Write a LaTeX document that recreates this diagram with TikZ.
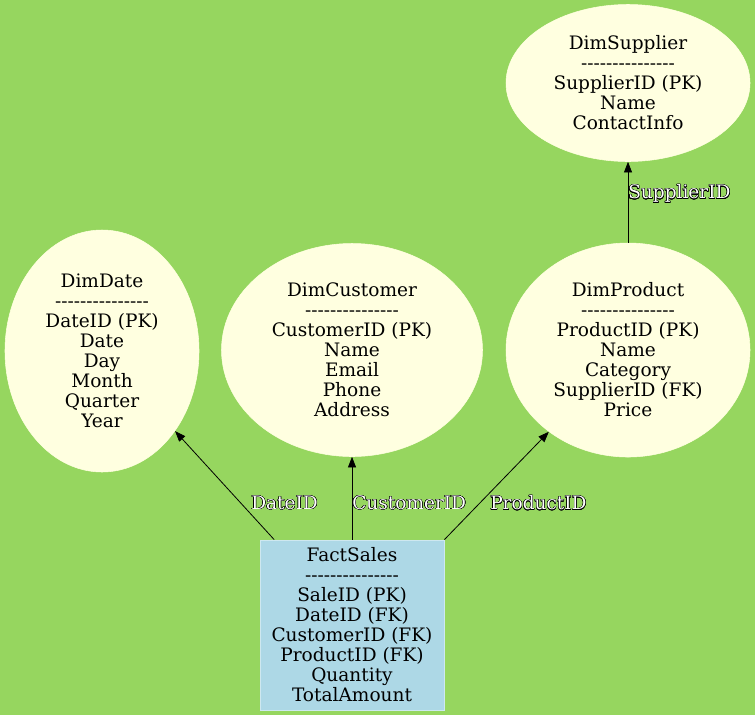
\documentclass[tikz,border=0pt]{standalone}
\usepackage{fontspec}
\setmainfont{DejaVu Serif}
\usepackage{contour}
\contourlength{0.3pt}
\contournumber{16}
\usetikzlibrary{shapes.geometric,arrows.meta}
\definecolor{bg}{HTML}{96D65F}
\definecolor{dimfill}{HTML}{FFFFE0}
\definecolor{factfill}{HTML}{ADD8E6}
\tikzset{
  dimbox/.style={ellipse, fill=dimfill, draw=dimfill, inner sep=0pt, align=center,
    font=\fontsize{13.9}{15}\selectfont},
  factbox/.style={rectangle, fill=factfill, draw=factfill!60!white, line width=0.6pt, inner sep=0pt, align=center,
    font=\fontsize{13.9}{15}\selectfont, minimum width=184*0.75pt, minimum height=170*0.75pt},
  rel/.style={draw=black, line width=0.6pt, -{Triangle[length=8pt,width=6pt]}},
  lbl/.style={anchor=west, inner sep=0pt, font=\fontsize{13.9}{15}\selectfont}
}
\newcommand{\lab}[1]{\contour{black}{\textcolor{white}{#1}}}
\newcommand{\hy}{\mbox{-}}
\newcommand{\sep}{\hy\hy\hy\hy\hy\hy\hy\hy\hy\hy\hy\hy\hy\hy\hy}
\begin{document}
\begin{tikzpicture}[x=0.75pt,y=-0.75pt]
\fill[bg] (0,0) rectangle (755,715);
\useasboundingbox (0,0) rectangle (755,715);

\node[dimbox, minimum width=244*0.75pt, minimum height=157*0.75pt] (supplier) at (628,83)
  {DimSupplier\\\sep\\SupplierID (PK)\\Name\\ContactInfo};
\node[dimbox, minimum width=194*0.75pt, minimum height=242*0.75pt] (date) at (102,351)
  {DimDate\\\sep\\DateID (PK)\\Date\\Day\\Month\\Quarter\\Year};
\node[dimbox, minimum width=261*0.75pt, minimum height=213*0.75pt] (customer) at (352,350)
  {DimCustomer\\\sep\\CustomerID (PK)\\Name\\Email\\Phone\\Address};
\node[dimbox, minimum width=244*0.75pt, minimum height=214*0.75pt] (product) at (628,350)
  {DimProduct\\\sep\\ProductID (PK)\\Name\\Category\\SupplierID (FK)\\Price};
\node[factbox] (fact) at (352,625)
  {FactSales\\\sep\\SaleID (PK)\\DateID (FK)\\CustomerID (FK)\\ProductID (FK)\\Quantity\\TotalAmount};

\draw[rel] (fact) -- (date);
\draw[rel] (fact) -- (customer);
\draw[rel] (fact.north east) -- (product);
\draw[rel] (product) -- (supplier);

\node[lbl] (l1) at (251,503) {\lab{DateID}};
\node[lbl] (l2) at (352,503) {\lab{CustomerID}};
\node[lbl] (l3) at (490,503) {\lab{ProductID}};
\node[lbl] (l4) at (628,194) {\lab{SupplierID}};
\end{tikzpicture}
\end{document}
